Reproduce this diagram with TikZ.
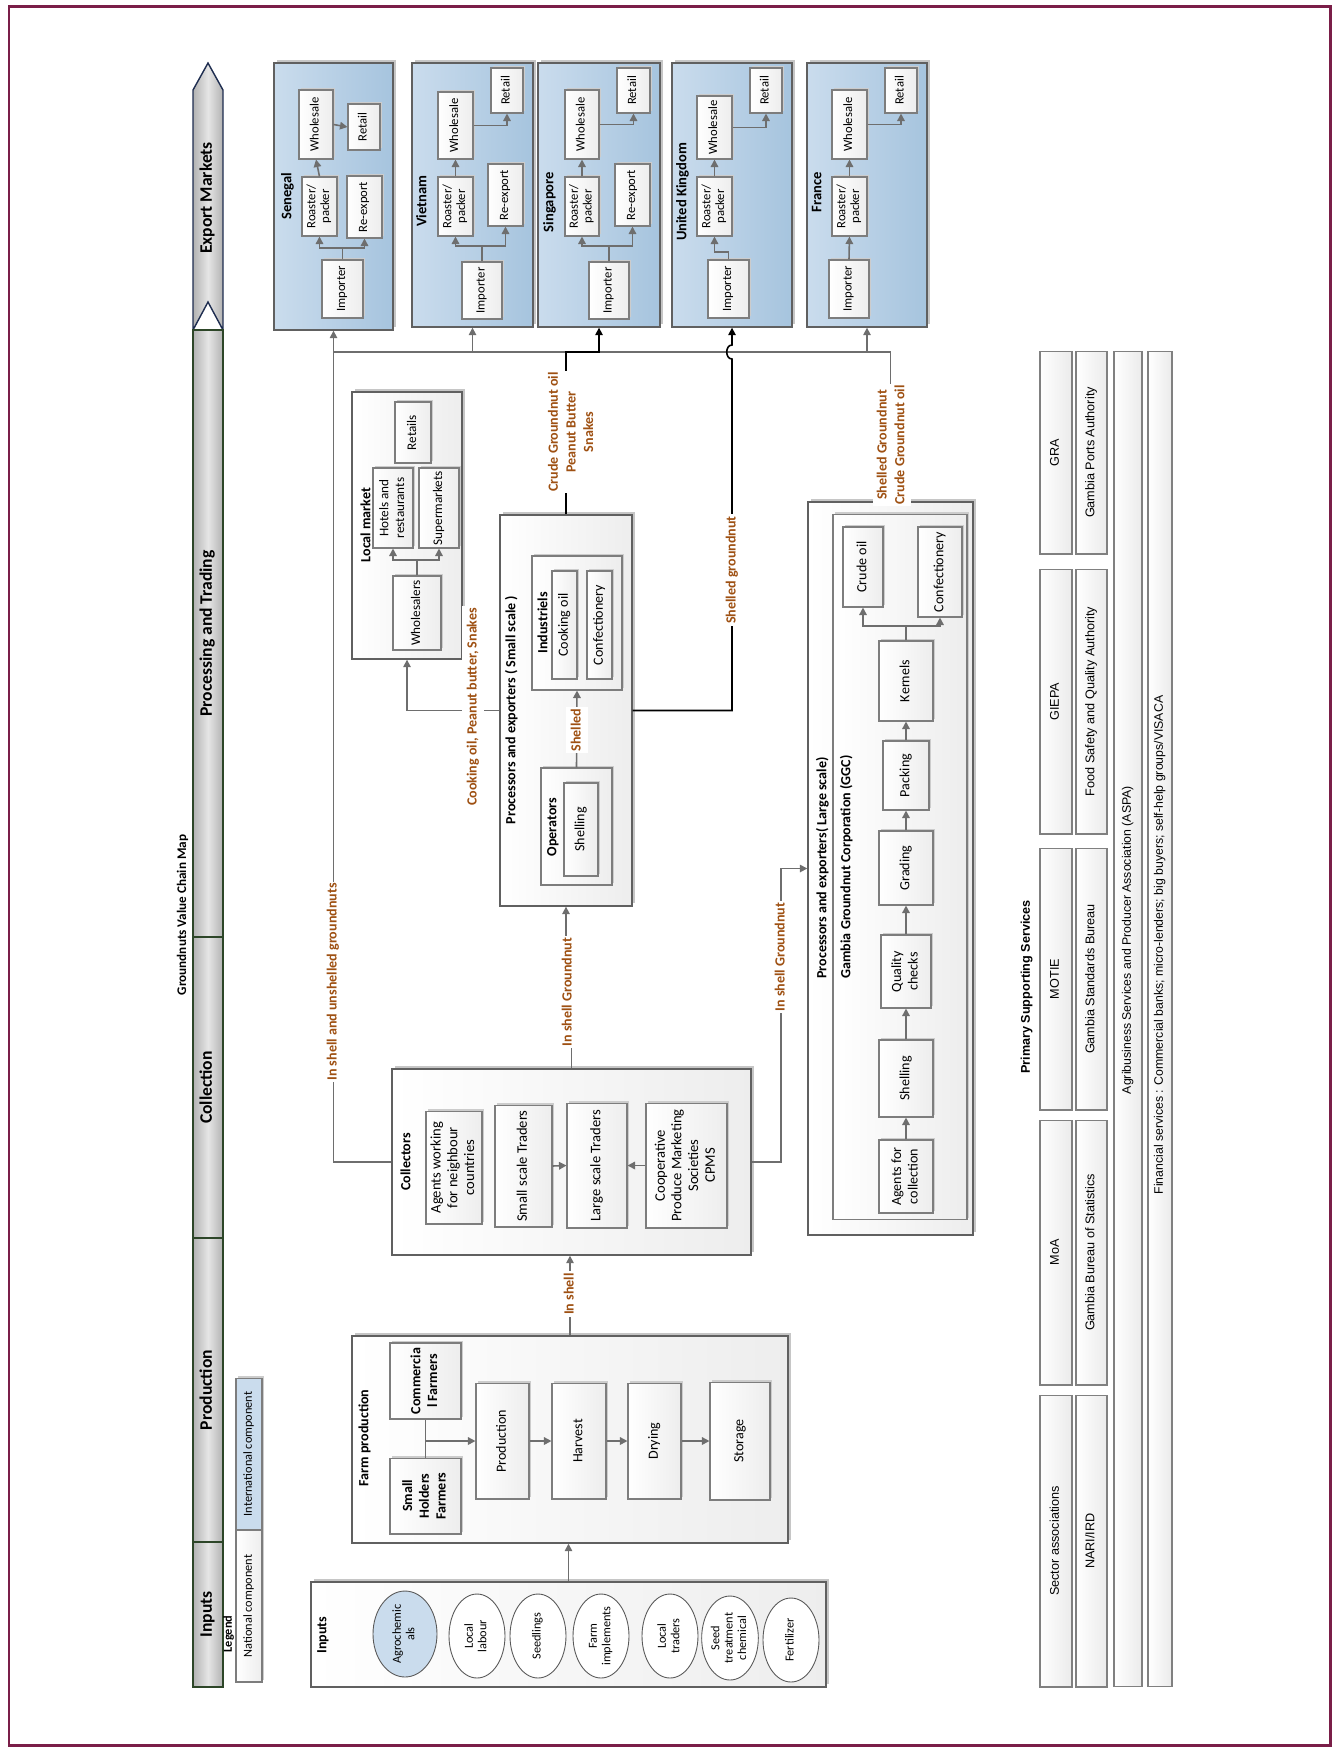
\documentclass[tikz,border=0pt]{standalone}
\usepackage{fontspec}
\setmainfont{Carlito}
\newfontfamily\arialfont{Liberation Sans}
\usepackage{graphicx}
\usetikzlibrary{arrows.meta}
\usetikzlibrary{shapes.geometric}
\usetikzlibrary{shadows}
\definecolor{brn}{RGB}{158,80,18}
\definecolor{lg}{RGB}{110,110,110}
\definecolor{bd}{RGB}{125,125,125}
\definecolor{blA}{RGB}{202,220,237}
\definecolor{blB}{RGB}{166,196,222}
\definecolor{brd}{RGB}{122,30,72}
\definecolor{navy}{RGB}{30,45,80}
\definecolor{dgr}{RGB}{45,70,40}
\newcommand{\vt}[1]{\rotatebox{90}{\begin{tabular}{@{}c@{}}#1\end{tabular}}}

\begin{document}
\begin{tikzpicture}[x=0.02cm,y=-0.02cm,
  box/.style={draw=bd,line width=0.6pt,left color=white,right color=gray!14,inner sep=1pt,font=\fontsize{8}{9.5}\selectfont},
  sbox/.style={box,general shadow={fill=gray!40,shadow xshift=0.4mm,shadow yshift=0.4mm}},
  big/.style={box,draw=gray!75!black,line width=0.8pt,general shadow={fill=gray!45,shadow xshift=0.6mm,shadow yshift=0.6mm}},
  ebox/.style={big,left color=blA,right color=blB},
  xbox/.style={sbox,font=\fontsize{7.2}{7.8}\selectfont},
  mbox/.style={sbox,font=\fontsize{7.5}{9}\selectfont},
  cbox/.style={sbox,font=\fontsize{8.3}{9.5}\selectfont},
  wh/.style 2 args={minimum width=#1*0.2mm,minimum height=#2*0.2mm},
  hd/.style={inner sep=0pt,font=\fontsize{8}{9.5}\selectfont\bfseries},
  cty/.style={inner sep=0pt,font=\fontsize{8.3}{9.5}\selectfont\bfseries},
  seg/.style={draw=dgr,line width=0.8pt,left color=gray!60,right color=gray!60,middle color=gray!20,inner sep=0pt,font=\fontsize{10}{11}\selectfont\bfseries},
  ell/.style={ellipse,draw=gray!70!black,line width=0.5pt,fill=white,inner sep=0pt,font=\fontsize{7}{7.6}\selectfont},
  sup/.style={draw=gray,line width=0.6pt,left color=white,right color=gray!16,inner sep=1pt,font=\arialfont\fontsize{7.2}{8}\selectfont},
  con/.style={draw=lg,line width=0.9pt,-{Triangle[length=1.5mm,width=1.5mm]}},
  ln/.style={draw=lg,line width=0.9pt},
  blk/.style={draw=black,line width=0.9pt,-{Triangle[length=1.5mm,width=1.5mm]}},
  lbl/.style={fill=white,inner sep=1pt,text=brn,font=\fontsize{8}{10}\selectfont\bfseries}]
\useasboundingbox (0,0) rectangle (1332,1749);
\draw[draw=brd,line width=0.6mm] (9,6) rectangle (1330,1745);

\draw[draw=navy,line width=0.8pt,left color=gray!60,right color=gray!60,middle color=gray!20] (193,330) -- (193,90) -- (208,63) -- (223,90) -- (223,330) -- (208,302) -- cycle;
\node[hd,font=\fontsize{10}{11}\selectfont\bfseries] (exm) at (208,198) {\vt{Export Markets}};
\node[seg,wh={30}{607}] (ptr) at (208,633.5) {\vt{Processing and Trading}};
\node[seg,wh={30}{301}] (clc) at (208,1087.5) {\vt{Collection}};
\node[seg,wh={30}{304}] (prn) at (208,1390) {\vt{Production}};
\node[seg,wh={30}{145}] (inn) at (208,1614.5) {\vt{Inputs}};
\node[hd,font=\fontsize{7.5}{9}\selectfont\bfseries] (ttl) at (183,915) {\vt{Groundnuts Value Chain Map}};

\node[hd,font=\fontsize{7}{8}\selectfont\bfseries] (leg) at (229,1634) {\vt{Legend}};
\node[sbox,wh={26}{152},font=\fontsize{7}{8}\selectfont] (nat) at (249,1606) {\vt{National component}};
\node[sbox,wh={26}{152},left color=blA,right color=blA,font=\fontsize{7}{8}\selectfont] (int) at (249,1454) {\vt{International component}};

\node[big,wh={515}{105}] (inp) at (568.5,1634.5) {};
\node[hd] (inpL) at (323,1635) {\vt{Inputs}};
\node[ell,wh={64}{86},fill=blA] (agr) at (405,1634) {\vt{Agrochemic\\als}};
\node[ell,wh={56}{84}] (lab) at (477,1636) {\vt{Local\\labour}};
\node[ell,wh={56}{84}] (sdl) at (538,1636) {\vt{Seedlings}};
\node[ell,wh={56}{84}] (imp) at (601,1636) {\vt{Farm\\implements}};
\node[ell,wh={56}{84}] (ltr) at (670,1636) {\vt{Local\\traders}};
\node[ell,wh={56}{84}] (stc) at (730,1638) {\vt{Seed\\treatment\\chemical}};
\node[ell,wh={56}{84}] (fer) at (791,1640) {\vt{Fertilizer}};

\node[big,wh={436}{207}] (frm) at (570,1439.5) {};
\node[hd] (frmL) at (365,1438) {\vt{Farm production}};
\node[sbox,wh={71}{76},font=\fontsize{8}{9.5}\selectfont\bfseries] (com) at (425.5,1381) {\vt{Commercia\\l Farmers}};
\node[sbox,wh={71}{76},font=\fontsize{8}{9.5}\selectfont\bfseries] (sml) at (425.5,1496) {\vt{Small\\Holders\\Farmers}};
\node[sbox,wh={53}{116}] (prd) at (502.5,1441) {\vt{Production}};
\node[sbox,wh={54}{116}] (hrv) at (579,1441) {\vt{Harvest}};
\node[sbox,wh={53}{116}] (dry) at (654.5,1441) {\vt{Drying}};
\node[sbox,wh={60}{118}] (sto) at (740,1441) {\vt{Storage}};

\node[big,wh={359}{186}] (col) at (571.5,1162) {};
\node[hd] (colL) at (407,1162) {\vt{Collectors}};
\node[cbox,wh={56}{113}] (agt) at (454,1167.5) {\vt{Agents working\\for neighbour\\countries}};
\node[cbox,wh={57}{122}] (sst) at (523.5,1166) {\vt{Small scale Traders}};
\node[cbox,wh={60}{125}] (lst) at (597,1165.5) {\vt{Large scale Traders}};
\node[cbox,wh={81}{125}] (cpm) at (686.5,1165.5) {\vt{Cooperative\\Produce Marketing\\Societies\\CPMS}};

\node[big,wh={132}{391}] (psm) at (566,710.5) {};
\node[hd] (psmL) at (512,710) {\vt{Processors and exporters ( Small scale )}};
\node[sbox,wh={90}{134}] (ind) at (577,623) {};
\node[hd] (indL) at (544,623) {\vt{Industriels}};
\node[sbox,wh={25}{108}] (coo) at (564.5,625) {\vt{Cooking oil}};
\node[sbox,wh={25}{108}] (cnf) at (599.5,625) {\vt{Confectionery}};
\node[sbox,wh={71}{117}] (opr) at (576.5,826.5) {};
\node[hd] (oprL) at (553,827) {\vt{Operators}};
\node[sbox,wh={34}{93}] (shl) at (581,829.5) {\vt{Shelling}};

\node[big,wh={110}{267}] (lmk) at (407,525.5) {};
\node[hd] (lmkL) at (367,525) {\vt{Local market}};
\node[mbox,wh={36}{61}] (ret) at (413,432.5) {\vt{Retails}};
\node[mbox,wh={40}{80}] (hot) at (393,508) {\vt{Hotels and\\restaurants}};
\node[mbox,wh={40}{80}] (smk) at (439,508) {\vt{Supermarkets}};
\node[mbox,wh={48}{74}] (whl) at (417,613) {\vt{Wholesalers}};

\node[big,wh={165}{733}] (lrg) at (890.5,868.5) {};
\node[hd] (lrgL) at (823,868) {\vt{Processors and exporters( Large scale)}};
\node[sbox,wh={134}{706}] (ggc) at (900,867) {};
\node[hd] (ggcL) at (847,867) {\vt{Gambia Groundnut Corporation (GGC)}};
\node[sbox,wh={40}{80}] (cru) at (863,567) {\vt{Crude oil}};
\node[sbox,wh={44}{90}] (cnf2) at (940,572) {\vt{Confectionery}};
\node[sbox,wh={54}{80}] (ker) at (906,681) {\vt{Kernels}};
\node[sbox,wh={46}{69}] (pck) at (906,775.5) {\vt{Packing}};
\node[sbox,wh={54}{74}] (grd) at (906,868) {\vt{Grading}};
\node[sbox,wh={50}{73}] (qck) at (906,971.5) {\vt{Quality\\checks}};
\node[sbox,wh={54}{77}] (shl2) at (906,1078.5) {\vt{Shelling}};
\node[sbox,wh={54}{73}] (agc) at (906,1176.5) {\vt{Agents for\\collection}};

\node[ebox,wh={119}{267}] (sen) at (333.5,196.5) {};
\node[ebox,wh={121}{264}] (vn) at (472.5,195) {};
\node[ebox,wh={122}{264}] (sgp) at (599,195) {};
\node[ebox,wh={120}{264}] (uk) at (732,195) {};
\node[ebox,wh={120}{264}] (fr) at (867,195) {};
\node[cty] (senL) at (288,196) {\vt{Senegal}};
\node[cty] (vnL) at (423,201) {\vt{Vietnam}};
\node[cty] (sgpL) at (550,202) {\vt{Singapore}};
\node[cty] (ukL) at (683,192) {\vt{United Kingdom}};
\node[cty] (frL) at (818,192) {\vt{France}};

\node[xbox,wh={34}{69}] (ws1) at (316,124.5) {\vt{Wholesale}};
\node[xbox,wh={32}{46}] (rt1) at (364,127) {\vt{Retail}};
\node[xbox,wh={35}{59}] (rp1) at (319.5,206.5) {\vt{Roaster/\\packer}};
\node[xbox,wh={35}{62}] (re1) at (364.5,207) {\vt{Re-export}};
\node[xbox,wh={41}{58}] (im1) at (342.5,289) {\vt{Importer}};

\node[xbox,wh={35}{67}] (ws2) at (455.5,125.5) {\vt{Wholesale}};
\node[xbox,wh={32}{45}] (rt2) at (507,90.5) {\vt{Retail}};
\node[xbox,wh={35}{59}] (rp2) at (455.5,206.5) {\vt{Roaster/\\packer}};
\node[xbox,wh={35}{62}] (re2) at (505.5,195) {\vt{Re-export}};
\node[xbox,wh={40}{57}] (im2) at (482,290.5) {\vt{Importer}};

\node[xbox,wh={34}{69}] (ws3) at (582,124.5) {\vt{Wholesale}};
\node[xbox,wh={33}{45}] (rt3) at (633.5,90.5) {\vt{Retail}};
\node[xbox,wh={34}{59}] (rp3) at (582,206.5) {\vt{Roaster/\\packer}};
\node[xbox,wh={35}{62}] (re3) at (632.5,195) {\vt{Re-export}};
\node[xbox,wh={40}{57}] (im3) at (609,290.5) {\vt{Importer}};

\node[xbox,wh={35}{63}] (ws4) at (714.5,127.5) {\vt{Wholesale}};
\node[xbox,wh={32}{45}] (rt4) at (766,90.5) {\vt{Retail}};
\node[xbox,wh={35}{59}] (rp4) at (714.5,206.5) {\vt{Roaster/\\packer}};
\node[xbox,wh={41}{58}] (im4) at (728.5,289) {\vt{Importer}};

\node[xbox,wh={35}{69}] (ws5) at (849.5,124.5) {\vt{Wholesale}};
\node[xbox,wh={32}{45}] (rt5) at (901,90.5) {\vt{Retail}};
\node[xbox,wh={35}{59}] (rp5) at (849.5,206.5) {\vt{Roaster/\\packer}};
\node[xbox,wh={40}{58}] (im5) at (849,289) {\vt{Importer}};

\node[hd,font=\arialfont\fontsize{7.2}{8}\selectfont\bfseries] (pss) at (1027,987) {\vt{Primary Supporting Services}};
\node[sup,wh={32}{203}] (gra) at (1056,452.5) {\vt{GRA}};
\node[sup,wh={31}{203}] (gpa) at (1091.5,452.5) {\vt{Gambia Ports Authority}};
\node[sup,wh={32}{265}] (gie) at (1056,701.5) {\vt{GIEPA}};
\node[sup,wh={31}{265}] (fsq) at (1091.5,701.5) {\vt{Food Safety and Quality Authority}};
\node[sup,wh={32}{262}] (mot) at (1056,979) {\vt{MOTIE}};
\node[sup,wh={31}{262}] (gsb) at (1091.5,979) {\vt{Gambia Standards Bureau}};
\node[sup,wh={32}{265}] (moa) at (1056,1252.5) {\vt{MoA}};
\node[sup,wh={31}{265}] (gbs) at (1091.5,1252.5) {\vt{Gambia Bureau of Statistics}};
\node[sup,wh={32}{292}] (sec) at (1056,1541) {\vt{Sector associations}};
\node[sup,wh={31}{292}] (nar) at (1091.5,1541) {\vt{NARI/IRD}};
\node[sup,wh={28}{1336}] (asp) at (1128,1019) {};
\node[inner sep=0pt,font=\arialfont\fontsize{7}{8}\selectfont] (aspT) at (1128,940) {\vt{Agribusiness Services and Producer Association (ASPA)}};
\node[sup,wh={24}{1336}] (fin) at (1160,1019) {};
\node[inner sep=0pt,font=\arialfont\fontsize{7}{8}\selectfont] (finT) at (1160,945) {\vt{Financial services : Commercial banks; micro-lenders; big buyers; self-help groups/VISACA}};

\draw[ln] (com.south) -- (sml.north);
\coordinate (fj) at (425.5,1441);
\draw[con] (fj) -- (prd.west);
\draw[con] (prd.east) -- (hrv.west);
\draw[con] (hrv.east) -- (dry.west);
\draw[con] (dry.east) -- (sto.west);
\draw[con] (inp.north) -- (inp.north |- frm.south);
\draw[con] (frm.north) -- (frm.north |- col.south);

\draw[con] (sst.east) -- (lst.west);
\draw[con] (cpm.west) -- (lst.east);
\coordinate (ig) at (566,990);
\draw[con] (col.north) |- (ig) -- (psm.south);
\coordinate (cr) at (781,1162);
\draw[con] (col.east) -- (cr) |- (lrg.west);

\draw[con] (opr.north) -- (ind.south);
\draw[con] (psm.west) -| (lmk.south);
\coordinate (lj) at (417,560);
\draw[ln] (whl.north) -- (lj);
\draw[con] (lj) -| (hot.south);
\draw[con] (lj) -| (smk.south);

\draw[con] (agc.north) -- (shl2.south);
\draw[con] (shl2.north) -- (qck.south);
\draw[con] (qck.north) -- (grd.south);
\draw[con] (grd.north) -- (pck.south);
\draw[con] (pck.north) -- (ker.south);
\coordinate (kj) at (906,626);
\draw[ln] (ker.north) -- (kj);
\draw[con] (kj) -| (cru.south);
\draw[con] (kj) -| (cnf2.south);

\coordinate (ex) at (890.5,352);
\coordinate (ew) at (333,352);
\draw[ln] (lrg.north) -- (ex) -- (ew);
\draw[con] (col.west) -| (sen.south);
\draw[con] (vn.south |- ex) -- (vn.south);
\draw[con] (fr.south |- ex) -- (fr.south);
\coordinate (sj) at (566,352);
\draw[blk] (psm.north) -- (sj) -| (sgp.south);
\coordinate (uj) at (732,710.5);
\draw[blk] (psm.east) -- (uj) -- (732,359) .. controls (725,359) and (725,345) .. (732,345) -- (uk.south);

\coordinate (j1) at (342.5,248);
\draw[ln] (im1.north) -- (j1);
\draw[con] (j1) -| (rp1.south);
\draw[con] (j1) -| (re1.south);
\draw[con] (rp1.north) -- (ws1.south);
\draw[con] (ws1.east) -- (rt1.west);
\coordinate (j2) at (482,246);
\draw[ln] (im2.north) -- (j2);
\draw[con] (j2) -| (rp2.south);
\draw[con] (j2) -| (re2.south);
\draw[con] (rp2.north) -- (ws2.south);
\draw[con] (ws2.east) -| (rt2.south);
\coordinate (j3) at (609,246);
\draw[ln] (im3.north) -- (j3);
\draw[con] (j3) -| (rp3.south);
\draw[con] (j3) -| (re3.south);
\draw[con] (rp3.north) -- (ws3.south);
\draw[con] (ws3.east) -| (rt3.south);
\coordinate (j4) at (728.5,252);
\draw[ln] (im4.north) -- (j4);
\draw[con] (j4) -| (rp4.south);
\draw[con] (rp4.north) -- (ws4.south);
\draw[con] (ws4.east) -| (rt4.south);
\draw[con] (im5.north) -- (rp5.south);
\draw[con] (rp5.north) -- (ws5.south);
\draw[con] (ws5.east) -| (rt5.south);

\node[lbl] (l1) at (333,982) {\vt{In shell and unshelled groundnuts}};
\node[lbl] (l2) at (568,992) {\vt{In shell Groundnut}};
\node[lbl] (l3) at (781,957) {\vt{In shell Groundnut}};
\node[lbl] (l4) at (570,1294) {\vt{In shell}};
\node[lbl] (l5) at (473,707) {\vt{Cooking oil, Peanut butter, Snakes}};
\node[lbl] (l6) at (577,730) {\vt{Shelled}};
\node[lbl] (l7) at (572,432) {\vt{Crude Groundnut oil\\Peanut Butter\\Snakes}};
\node[lbl] (l8) at (732,570) {\vt{Shelled groundnut}};
\node[lbl] (l9) at (892,445) {\vt{Shelled Groundnut\\Crude Groundnut oil}};
\end{tikzpicture}
\end{document}
